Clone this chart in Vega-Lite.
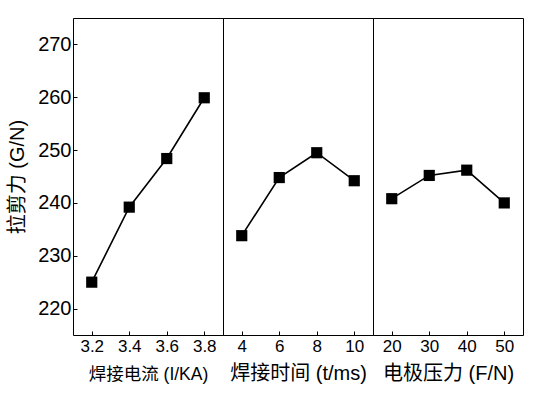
{
  "$schema": "https://vega.github.io/schema/vega-lite/v6.json",
  "padding": {"left": 7, "top": 17, "right": 5, "bottom": 5},
  "background": "white",
  "spacing": 0,
  "bounds": "flush",
  "config": {
    "font": "Liberation Sans, Arial, Noto Sans CJK SC",
    "view": {"stroke": "black", "strokeWidth": 1},
    "concat": {"spacing": 0},
    "axis": {
      "grid": false,
      "domain": false,
      "tickColor": "black",
      "tickSize": -4,
      "tickWidth": 1,
      "labelColor": "black",
      "titleColor": "black",
      "titleFontWeight": "normal",
      "labelFont": "Liberation Sans, Arial",
      "titleFont": "Liberation Sans, Noto Sans CJK SC"
    }
  },
  "datasets": {
    "current": [
      {"x": 3.2, "y": 225.0},
      {"x": 3.4, "y": 239.2},
      {"x": 3.6, "y": 248.4},
      {"x": 3.8, "y": 259.9}
    ],
    "time": [
      {"x": 4, "y": 233.8},
      {"x": 6, "y": 244.8},
      {"x": 8, "y": 249.5},
      {"x": 10, "y": 244.2}
    ],
    "pressure": [
      {"x": 20, "y": 240.8},
      {"x": 30, "y": 245.2},
      {"x": 40, "y": 246.2},
      {"x": 50, "y": 240.0}
    ]
  },
  "hconcat": [
    {
      "width": 150,
      "height": 317,
      "data": {"name": "current"},
      "mark": {"type": "line", "color": "black", "strokeWidth": 1.6,
        "point": {"shape": "square", "size": 125, "filled": true, "color": "black", "opacity": 1}},
      "encoding": {
        "x": {"field": "x", "type": "quantitative",
          "scale": {"domain": [3.1, 3.9], "nice": false, "zero": false},
          "axis": {"values": [3.2, 3.4, 3.6, 3.8], "format": ".1f", "title": "焊接电流 (I/KA)",
            "labelFontSize": 17, "labelPadding": 7, "titleFontSize": 17.5, "titlePadding": 11}},
        "y": {"field": "y", "type": "quantitative",
          "scale": {"domain": [215, 275], "nice": false, "zero": false},
          "axis": {"values": [220, 230, 240, 250, 260, 270], "title": "拉剪力 (G/N)",
            "labelFontSize": 20, "labelPadding": 6, "titleFontSize": 20, "titlePadding": 10}}
      }
    },
    {
      "width": 150,
      "height": 317,
      "data": {"name": "time"},
      "mark": {"type": "line", "color": "black", "strokeWidth": 1.6,
        "point": {"shape": "square", "size": 125, "filled": true, "color": "black", "opacity": 1}},
      "encoding": {
        "x": {"field": "x", "type": "quantitative",
          "scale": {"domain": [3, 11], "nice": false, "zero": false},
          "axis": {"values": [4, 6, 8, 10], "title": "焊接时间 (t/ms)",
            "labelFontSize": 17, "labelPadding": 7, "titleFontSize": 20, "titlePadding": 9}},
        "y": {"field": "y", "type": "quantitative",
          "scale": {"domain": [215, 275], "nice": false, "zero": false},
          "axis": null}
      }
    },
    {
      "width": 150,
      "height": 317,
      "data": {"name": "pressure"},
      "mark": {"type": "line", "color": "black", "strokeWidth": 1.6,
        "point": {"shape": "square", "size": 125, "filled": true, "color": "black", "opacity": 1}},
      "encoding": {
        "x": {"field": "x", "type": "quantitative",
          "scale": {"domain": [15, 55], "nice": false, "zero": false},
          "axis": {"values": [20, 30, 40, 50], "title": "电极压力 (F/N)",
            "labelFontSize": 17, "labelPadding": 7, "titleFontSize": 20, "titlePadding": 9}},
        "y": {"field": "y", "type": "quantitative",
          "scale": {"domain": [215, 275], "nice": false, "zero": false},
          "axis": null}
      }
    }
  ]
}
